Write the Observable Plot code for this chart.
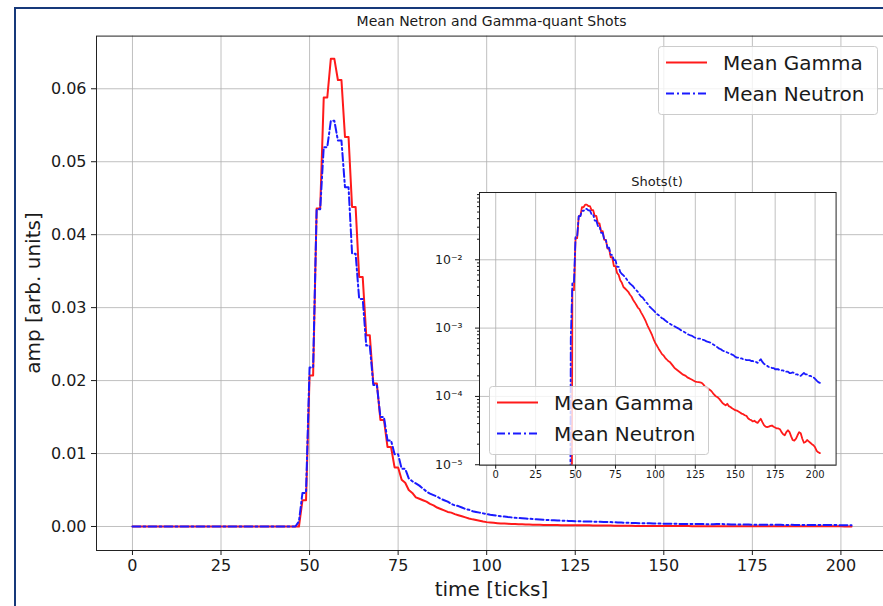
<!DOCTYPE html>
<html><head><meta charset="utf-8">
<script src="https://cdn.jsdelivr.net/npm/d3@7"></script>
<script src="https://cdn.jsdelivr.net/npm/@observablehq/plot@0.6"></script>
<style>
body{margin:0;background:#fff;}
#wrap{position:relative;width:883px;height:606px;overflow:hidden;background:#fff;font-family:"DejaVu Sans",sans-serif;color:#1a1a1a;}
.abs{position:absolute;}
#frameDeco{position:absolute;left:14px;top:7px;width:1000px;height:1000px;border-left:2px solid #17397a;border-top:2px solid #17397a;box-sizing:border-box;}
</style></head><body><div id="wrap"><div id="frameDeco"></div></div>
<script>
// ---- data (index = time tick 0..203) ----
const gamma = [
0,0,0,0,0,0,0,0,0,0, 0,0,0,0,0,0,0,0,0,0, 0,0,0,0,0,0,0,0,0,0, 0,0,0,0,0,0,0,0,0,0, 0,0,0,0,0,0,0,0,
0.0036,0.0036, 0.0207,0.0207, 0.0436,0.0436, 0.0588,0.0588, 0.0641,0.0641, 0.0612,0.0612, 0.0534,0.0534,
0.0438,0.0438, 0.0342,0.0342, 0.0262,0.0262, 0.0196,0.0196, 0.0146,0.0146, 0.0109,0.0109, 0.0081,0.0081,
0.0064,0.0060,0.0050,0.0046,
0.0040,0.0038,0.0036,0.0034,0.0031,0.0029,0.0026,0.0024,
0.0022,0.0020,0.0019,0.0017,0.00155,0.0014,0.00125,0.0011,0.00098,0.00088,0.00078,0.00068,
0.00060,0.00055,0.00050,0.00046,0.00042,0.00040,0.00037,0.00035,0.00033,0.00032,
0.00030,0.00028,0.00026,0.00025,0.00024,0.00023,0.00022,0.00021,0.000205,0.00020,
0.00019,0.000185,0.00018,0.000175,0.00017,0.000165,0.000163,0.000162,0.00016,0.000158,
0.00015,0.00014,0.000135,0.00013,0.000125,0.00012,0.000112,0.000105,0.0001,0.000097,
0.000092,0.000086,0.00008,0.000077,0.000074,0.000078,0.000072,0.00007,0.000067,0.000065,
0.000063,0.000062,0.00006,0.000058,0.000056,0.000055,0.000053,0.000052,0.000048,0.000046,
0.000045,0.000043,0.000044,0.000042,0.000041,0.000044,0.000047,0.000042,0.000038,0.000036,
0.0000355,0.000036,0.000037,0.0000375,0.000036,0.000035,0.000034,0.000034,0.000033,0.00003,
0.000028,0.000027,0.00003,0.000032,0.00003,0.000026,0.000023,0.0000225,0.000024,0.000027,
0.00003,0.000029,0.000024,0.000021,0.0000215,0.000023,0.000022,0.000021,0.00002,0.0000193,
0.000018,0.000016,0.0000152,0.0000148
];
const neutron = [
0,0,0,0,0,0,0,0,0,0, 0,0,0,0,0,0,0,0,0,0, 0,0,0,0,0,0,0,0,0,0, 0,0,0,0,0,0,0,0,0,0, 0,0,0,0,0,0,0,0.0007,
0.0046,0.0046, 0.0218,0.0218, 0.0435,0.0435, 0.0520,0.0520, 0.0556,0.0556, 0.0529,0.0529, 0.0465,0.0465,
0.0374,0.0374, 0.0312,0.0312, 0.0248,0.0248, 0.0194,0.0194, 0.0150,0.0150, 0.0118,0.0118, 0.0099,0.0099,
0.0079,0.0079,0.0066,0.0062,
0.0059,0.0056,0.0052,0.0048,0.0045,0.0043,0.0041,0.0038,
0.0036,0.0034,0.0031,0.0029,0.0028,0.0026,0.0024,0.0023,0.0021,0.0020,0.0019,0.0018,
0.0017,0.0016,0.00155,0.00148,0.0014,0.00137,0.0013,0.00125,0.0012,0.00116,
0.00112,0.00109,0.00106,0.00103,0.001,0.00097,0.00093,0.0009,0.00088,0.00085,
0.00082,0.0008,0.00078,0.00077,0.00074,0.00072,0.00071,0.0007,0.0007,0.00069,
0.00067,0.00066,0.00064,0.00063,0.00062,0.0006,0.00058,0.00056,0.00054,0.00052,
0.0005,0.00049,0.00047,0.00046,0.00045,0.00044,0.00043,0.00042,0.00041,0.0004,
0.00038,0.00037,0.00037,0.00036,0.00036,0.00035,0.00035,0.00034,0.00034,0.00034,
0.00033,0.00033,0.00032,0.00032,0.00031,0.00033,0.00035,0.00032,0.0003,0.00029,
0.00028,0.00027,0.00027,0.00026,0.00026,0.00025,0.00025,0.00025,0.00024,0.00024,
0.00024,0.00023,0.00023,0.00023,0.00022,0.00022,0.000225,0.00022,0.00021,0.00021,
0.0002,0.0002,0.00021,0.00022,0.00021,0.00021,0.0002,0.0002,0.000195,0.00019,
0.00018,0.00017,0.000162,0.000158
];
const seriesNames = ["Mean Gamma", "Mean Neutron"];
const xTicks = [0, 25, 50, 75, 100, 125, 150, 175, 200];
const yTicks = [0, 0.01, 0.02, 0.03, 0.04, 0.05, 0.06];
const logTicks = [1e-5, 1e-4, 1e-3, 1e-2];
const logMinor = [2e-5,3e-5,4e-5,5e-5,6e-5,7e-5,8e-5,9e-5,
                  2e-4,3e-4,4e-4,5e-4,6e-4,7e-4,8e-4,9e-4,
                  2e-3,3e-3,4e-3,5e-3,6e-3,7e-3,8e-3,9e-3,
                  2e-2,3e-2,4e-2,5e-2,6e-2,7e-2,8e-2,9e-2];
const mainTitle = "Mean Netron and Gamma-quant Shots";
const insetTitle = "Shots(t)";
const xLabel = "time [ticks]";
const yLabel = "amp [arb. units]";

// ---- build tables ----
const gRows = gamma.map((v, t) => ({t, v}));
const nRows = neutron.map((v, t) => ({t, v}));
// log view: zeros are sent far below the frame and clipped (like matplotlib)
const gLog = gRows.map(d => ({t: d.t, v: d.v > 0 ? d.v : 1e-12}));
const nLog = nRows.map(d => ({t: d.t, v: d.v > 0 ? d.v : 1e-12}));

const RED = "#ff1a1a", BLUE = "#1a1aff", DASH = "8,3,2,3";
const grid = {stroke: "#b0b0b0", strokeOpacity: 1, strokeWidth: 0.8};
const baseStyle = {background: "transparent", maxWidth: "none", fontFamily: "DejaVu Sans, sans-serif", color: "#1a1a1a", overflow: "visible"};

const wrap = document.getElementById("wrap");

const mainPlot = Plot.plot({
  width: 900, height: 606,
  marginLeft: 96, marginRight: 13, marginTop: 35.6, marginBottom: 56,
  x: {domain: [-10.15, 213.15]},
  y: {domain: [-0.00329, 0.06722]},
  style: {...baseStyle, fontSize: "16px"},
  marks: [
    Plot.gridX(xTicks, grid),
    Plot.gridY(yTicks, grid),
    Plot.line(gRows, {x: "t", y: "v", stroke: RED, strokeWidth: 2}),
    Plot.line(nRows, {x: "t", y: "v", stroke: BLUE, strokeWidth: 2, strokeDasharray: DASH}),
    Plot.frame({stroke: "#222", strokeWidth: 1}),
    Plot.axisX(xTicks, {tickSize: 5, tickPadding: 4, fontSize: 16, label: null}),
    Plot.axisY(yTicks, {tickSize: 5, tickPadding: 5, fontSize: 16, label: null, tickFormat: d3.format(".2f")})
  ]
});
mainPlot.classList.add("abs");
mainPlot.style.left = "0px"; mainPlot.style.top = "0px";
wrap.appendChild(mainPlot);

const supMap = {"-": "\u207B", "0": "\u2070", "1": "\u00B9", "2": "\u00B2", "3": "\u00B3", "4": "\u2074", "5": "\u2075", "6": "\u2076", "7": "\u2077", "8": "\u2078", "9": "\u2079"};
const sup = d => "10" + String(Math.round(Math.log10(d))).split("").map(c => supMap[c]).join("");

const iml = 46, imt = 22;
const inset = Plot.plot({
  width: 46 + 356.6 + 8, height: 22 + 272.7 + 20,
  marginLeft: iml, marginRight: 8, marginTop: imt, marginBottom: 20,
  x: {domain: [-10.15, 213.15]},
  y: {type: "log", domain: [9.85e-6, 0.0966]},
  style: {...baseStyle, fontSize: "10px"},
  marks: [
    Plot.frame({fill: "white", stroke: "none"}),
    Plot.gridX(xTicks, grid),
    Plot.gridY(logTicks, grid),
    Plot.line(gLog, {x: "t", y: "v", stroke: RED, strokeWidth: 1.8, clip: true}),
    Plot.line(nLog, {x: "t", y: "v", stroke: BLUE, strokeWidth: 1.8, strokeDasharray: DASH, clip: true}),
    Plot.frame({stroke: "#222", strokeWidth: 1}),
    Plot.axisX(xTicks, {tickSize: 4, tickPadding: 2, fontSize: 10, label: null}),
    Plot.axisY(logTicks, {tickSize: 4, tickPadding: 13, fontSize: 12.5, label: null, tickFormat: sup}),
    Plot.axisY(logMinor, {tickSize: 2, label: null, tickFormat: () => ""})
  ]
});
inset.classList.add("abs");
inset.style.left = (478.7 - iml) + "px"; inset.style.top = (192 - imt) + "px";
wrap.appendChild(inset);

// ---- overlay: titles, axis labels, legends ----
function legend(x, y) {
  return `<g transform="translate(${x},${y})">
    <rect x="0.5" y="0.5" width="219" height="68" rx="3" fill="rgba(255,255,255,0.8)" stroke="#cccccc"/>
    <line x1="8" x2="49" y1="16.5" y2="16.5" stroke="${RED}" stroke-width="2"/>
    <text x="65" y="17" dominant-baseline="central" font-size="20">${seriesNames[0]}</text>
    <line x1="8" x2="49" y1="47.5" y2="47.5" stroke="${BLUE}" stroke-width="2" stroke-dasharray="${DASH}"/>
    <text x="65" y="48" dominant-baseline="central" font-size="20">${seriesNames[1]}</text>
  </g>`;
}
const ov = document.createElement("div");
ov.innerHTML = `<svg class="abs" style="left:0;top:0" width="883" height="606" font-family="DejaVu Sans, sans-serif" fill="#1a1a1a">
  <text x="491.5" y="21" text-anchor="middle" dominant-baseline="central" font-size="14">${mainTitle}</text>
  <text x="657" y="181" text-anchor="middle" dominant-baseline="central" font-size="13">${insetTitle}</text>
  <text x="491.5" y="589" text-anchor="middle" dominant-baseline="central" font-size="20">${xLabel}</text>
  <text transform="translate(33,293) rotate(-90)" text-anchor="middle" dominant-baseline="central" font-size="20">${yLabel}</text>
  ${legend(658, 46)}
  ${legend(489, 386)}
</svg>`;
wrap.appendChild(ov.firstElementChild);
</script></body></html>
